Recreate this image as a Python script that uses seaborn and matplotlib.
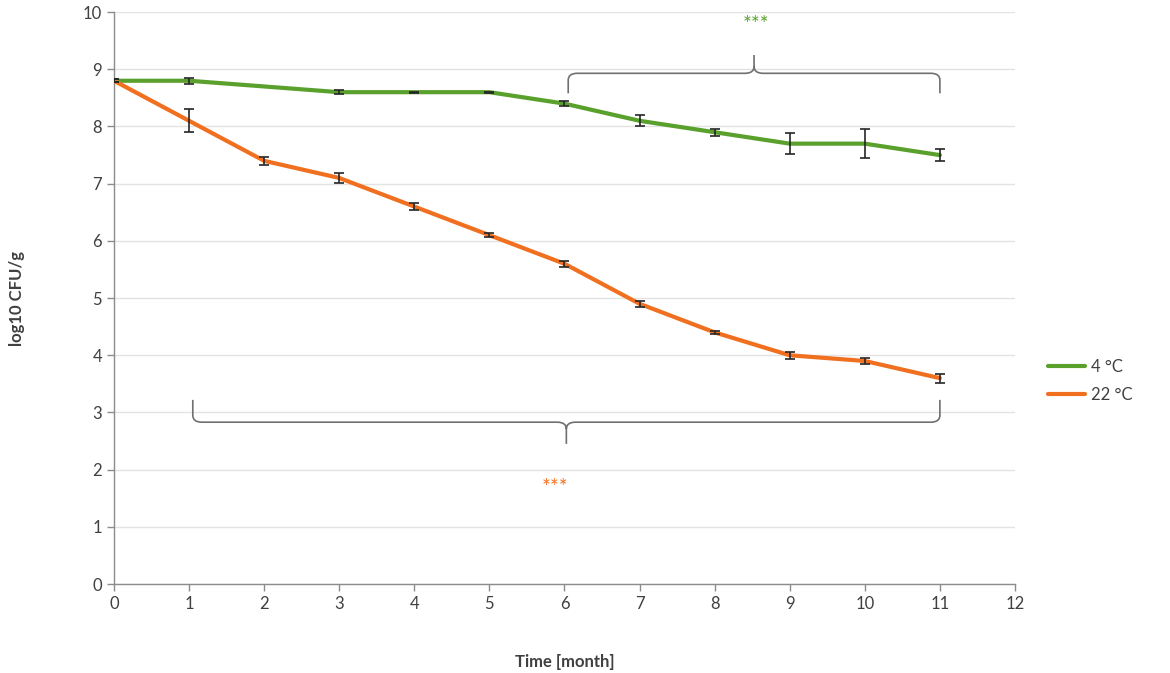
import matplotlib
matplotlib.use("Agg")
import matplotlib.pyplot as plt
from matplotlib.path import Path
from matplotlib.patches import PathPatch
import seaborn as sns
import pandas as pd
import numpy as np

months = [0, 1, 2, 3, 4, 5, 6, 7, 8, 9, 10, 11]
cold_mean = [8.8, 8.8, 8.7, 8.6, 8.6, 8.6, 8.4, 8.1, 7.9, 7.7, 7.7, 7.5]
cold_err = [0.03, 0.05, np.nan, 0.04, 0.01, 0.01, 0.05, 0.1, 0.06, 0.18, 0.25, 0.1]
warm_mean = [8.8, 8.1, 7.4, 7.1, 6.6, 6.1, 5.6, 4.9, 4.4, 4.0, 3.9, 3.6]
warm_err = [0.03, 0.2, 0.07, 0.08, 0.06, 0.03, 0.05, 0.05, 0.02, 0.06, 0.05, 0.08]
series_names = ["4 °C", "22 °C"]
colors = ["#5aa02c", "#f07020"]

sns.set_theme(style="white")
plt.rcParams['font.family'] = ['Lato', 'DejaVu Sans']

df = pd.DataFrame({
    "Time": months * 2,
    "value": cold_mean + warm_mean,
    "err": cold_err + warm_err,
    "series": [series_names[0]] * len(months) + [series_names[1]] * len(months),
})

fig = plt.figure(figsize=(11.7, 6.73), dpi=100)
ax = fig.add_axes([0.0974, 0.1322, 0.7701, 0.8498])

sns.lineplot(data=df, x="Time", y="value", hue="series", palette=colors,
             linewidth=3, ax=ax, zorder=3)
for name in series_names:
    sub = df[(df.series == name) & df.err.notna()]
    ax.errorbar(sub.Time, sub.value, yerr=sub.err, fmt="none", ecolor="#262626",
                elinewidth=1.2, capsize=3.5, capthick=1.2, zorder=4)

ax.set_xlim(0, 12)
ax.set_ylim(0, 10)
ax.set_xticks(range(0, 13))
ax.set_yticks(range(0, 11))
ax.yaxis.grid(True, color="#e3e3e3", linewidth=1)
ax.xaxis.grid(False)
for s in ["top", "right"]:
    ax.spines[s].set_visible(False)
for s in ["left", "bottom"]:
    ax.spines[s].set_color("#8c8c8c")
    ax.spines[s].set_linewidth(1)
ax.tick_params(axis="both", which="both", direction="out", length=5, width=1,
               color="#8c8c8c", labelsize=12, labelcolor="#404040", bottom=True, left=True)
ax.set_xlabel("Time [month]", fontsize=12, fontweight="bold", color="#404040", labelpad=30)
ax.set_ylabel("log10 CFU/g", fontsize=12, fontweight="bold", color="#404040", labelpad=42)


def brace(ax, x0, x1, yb, yend, ytip, r):
    """Horizontal curly brace from x0 to x1 at baseline yb; ends go to yend, tip at ytip."""
    xm = (x0 + x1) / 2
    sgn_end = np.sign(yend - yb)
    sgn_tip = np.sign(ytip - yb)
    rx = 0.12
    verts = [
        (x0, yend), (x0, yb + sgn_end * r), (x0, yb), (x0 + rx, yb),
        (xm - rx, yb), (xm, yb), (xm, yb + sgn_tip * r), (xm, ytip),
        (xm, yb + sgn_tip * r), (xm, yb), (xm + rx, yb),
        (x1 - rx, yb), (x1, yb), (x1, yb + sgn_end * r), (x1, yend),
    ]
    codes = [Path.MOVETO, Path.LINETO, Path.CURVE3, Path.CURVE3,
             Path.LINETO, Path.CURVE3, Path.CURVE3, Path.LINETO,
             Path.MOVETO, Path.CURVE3, Path.CURVE3,
             Path.LINETO, Path.CURVE3, Path.CURVE3, Path.LINETO]
    ax.add_patch(PathPatch(Path(verts, codes), fill=False, edgecolor="#707070",
                           linewidth=1.2, zorder=5))


brace(ax, 6.05, 11.0, 8.93, 8.58, 9.25, 0.12)
brace(ax, 1.05, 11.0, 2.83, 3.22, 2.45, 0.12)
ax.text(8.55, 9.78, "***", color=colors[0], fontsize=15, ha="center", va="center")
ax.text(5.87, 1.68, "***", color=colors[1], fontsize=15, ha="center", va="center")

handles, labels = ax.get_legend_handles_labels()
ax.legend(handles, labels, loc="center left", bbox_to_anchor=(1.02, 0.355),
          frameon=False, fontsize=12, labelcolor="#404040", handlelength=2.2,
          handletextpad=0.4, labelspacing=0.75)

fig.savefig("out.png", dpi=100)
